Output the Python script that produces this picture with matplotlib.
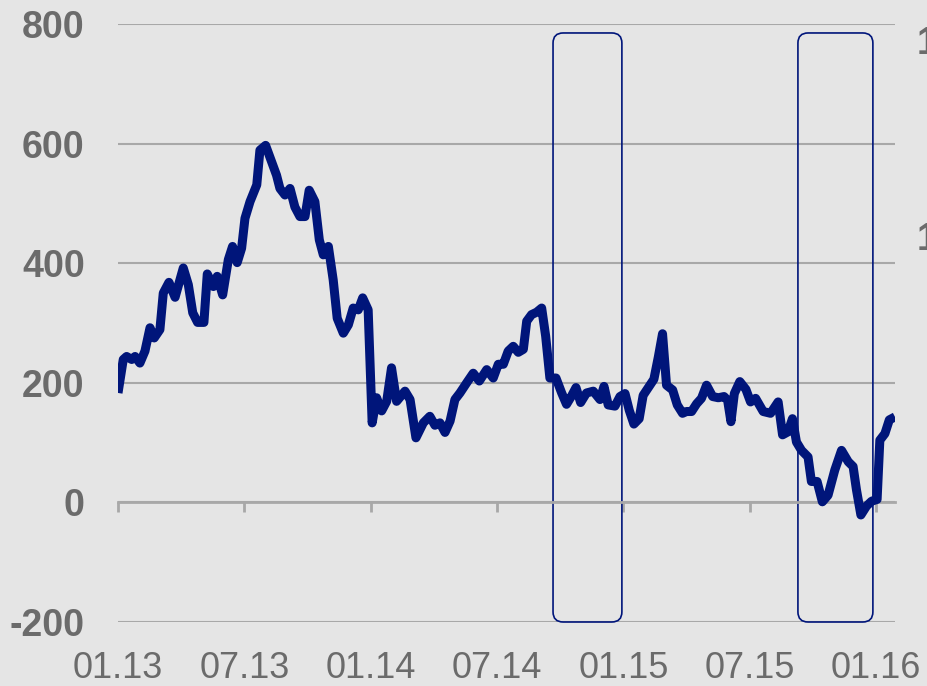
import matplotlib.pyplot as plt
from matplotlib.patches import FancyBboxPatch

# months since 01.2013 and the plotted value
months = [0.00, 0.25, 0.41, 0.65, 0.81, 1.04, 1.28, 1.52, 1.72, 1.99, 2.15, 2.42,
          2.71, 3.10, 3.34, 3.55, 3.78, 4.08, 4.24, 4.53, 4.71, 4.97, 5.24, 5.44,
          5.66, 5.87, 6.03, 6.27, 6.59, 6.74, 7.01, 7.30, 7.53, 7.69, 7.93, 8.17,
          8.40, 8.64, 8.88, 9.08, 9.35, 9.56, 9.75, 9.99, 10.22, 10.41, 10.70, 10.94,
          11.17, 11.41, 11.62, 11.88, 12.07, 12.28, 12.52, 12.76, 12.99, 13.23, 13.63, 13.87,
          14.15, 14.50, 14.81, 15.05, 15.29, 15.53, 15.77, 16.00, 16.24, 16.56, 16.87, 17.16,
          17.51, 17.82, 18.06, 18.30, 18.53, 18.77, 19.01, 19.25, 19.41, 19.64, 19.88, 20.12,
          20.31, 20.51, 20.80, 21.07, 21.30, 21.54, 21.75, 21.97, 22.25, 22.57, 22.89, 23.08,
          23.28, 23.60, 23.84, 24.08, 24.28, 24.50, 24.75, 24.94, 25.26, 25.45, 25.66, 25.86,
          26.05, 26.34, 26.56, 26.81, 27.00, 27.24, 27.48, 27.71, 27.95, 28.24, 28.51, 28.78,
          28.95, 29.11, 29.27, 29.53, 29.82, 30.04, 30.28, 30.64, 30.99, 31.35, 31.56, 31.82,
          32.03, 32.22, 32.46, 32.77, 32.93, 33.20, 33.45, 33.72, 34.04, 34.36, 34.68, 34.91,
          35.07, 35.28, 35.55, 35.79, 36.05, 36.18, 36.42, 36.63, 36.90]
values = [183, 239, 244, 239, 244, 233, 253, 292, 275, 289, 350, 368,
          343, 392, 364, 317, 301, 301, 382, 361, 378, 347, 406, 428,
          401, 425, 475, 503, 531, 589, 597, 569, 547, 525, 514, 525,
          494, 478, 478, 522, 503, 439, 414, 428, 372, 308, 283, 297,
          325, 322, 342, 322, 133, 175, 153, 169, 225, 169, 186, 172,
          108, 133, 144, 129, 133, 117, 136, 172, 183, 200, 216, 203,
          222, 208, 231, 231, 253, 261, 251, 256, 303, 314, 318, 325,
          278, 208, 208, 183, 164, 178, 192, 167, 183, 186, 172, 194,
          163, 161, 177, 182, 154, 131, 140, 179, 196, 206, 243, 282,
          196, 188, 163, 149, 152, 152, 165, 174, 196, 177, 175, 177,
          171, 135, 182, 202, 189, 168, 174, 152, 149, 168, 113, 118,
          140, 101, 87, 76, 35, 35, 1, 12, 54, 87, 68, 60,
          21, -21, -6, 2, 5, 104, 115, 138, 143]

tick_pos = [0, 6, 12, 18, 24, 30, 36]
tick_labels = ["01.13", "07.13", "01.14", "07.14", "01.15", "07.15", "01.16"]
y_ticks = [-200, 0, 200, 400, 600, 800]

# highlighted periods (months)
hl_start = [20.66, 32.29]
hl_end = [23.93, 35.85]
hl_bottom = -200
hl_top = 785

bg = "#e5e5e5"
navy = "#00157a"
grey_txt = "#6b6b6b"
grid_c = "#a8a8a8"

plt.rcParams["font.family"] = ["Liberation Sans", "DejaVu Sans"]

fig = plt.figure(figsize=(9.27, 6.86), dpi=100, facecolor=bg)
ax = fig.add_axes([118 / 927, 64 / 686, 777 / 927, 598 / 686], facecolor=bg)

ax.set_xlim(0, 36.9)
ax.set_ylim(-200, 800)

ax.yaxis.grid(True, color=grid_c, linewidth=1.5)
ax.set_axisbelow(True)
ax.set_yticks(y_ticks)
ax.set_yticklabels([str(v) for v in y_ticks], fontsize=27, fontweight="bold", color=grey_txt)
ax.tick_params(axis="y", length=0, pad=24)

for s in ["top", "right", "left"]:
    ax.spines[s].set_visible(False)
ax.spines["bottom"].set_position(("data", 0))
ax.spines["bottom"].set_color(grid_c)
ax.spines["bottom"].set_linewidth(2)

ax.set_xticks(tick_pos)
ax.set_xticklabels([])
ax.tick_params(axis="x", direction="out", length=7, width=2, color=grid_c)
for p, lab in zip(tick_pos, tick_labels):
    ax.text(p, -0.0936, lab, transform=ax.get_xaxis_transform(), ha="center",
            va="baseline", fontsize=26, color=grey_txt)

# rounded highlight boxes
px_x = 777 / 36.9
px_y = 598 / 1000
aspect = px_x / px_y
for a, b in zip(hl_start, hl_end):
    box = FancyBboxPatch((a, hl_bottom), b - a, hl_top - hl_bottom,
                         boxstyle="round,pad=0,rounding_size=0.48",
                         mutation_aspect=aspect, fill=False,
                         edgecolor=navy, linewidth=1.2, zorder=2, clip_on=False)
    ax.add_patch(box)

ax.plot(months, values, color=navy, linewidth=6.5, solid_joinstyle="round",
        solid_capstyle="butt", zorder=3)

# cut-off labels of the right-hand axis
fig.text(917 / 927, 1 - 44 / 686, "1", fontsize=27, fontweight="bold",
         color=grey_txt, ha="left", va="center")
fig.text(917 / 927, 1 - 240 / 686, "1", fontsize=27, fontweight="bold",
         color=grey_txt, ha="left", va="center")

fig.savefig("out.png", dpi=100, facecolor=bg)
